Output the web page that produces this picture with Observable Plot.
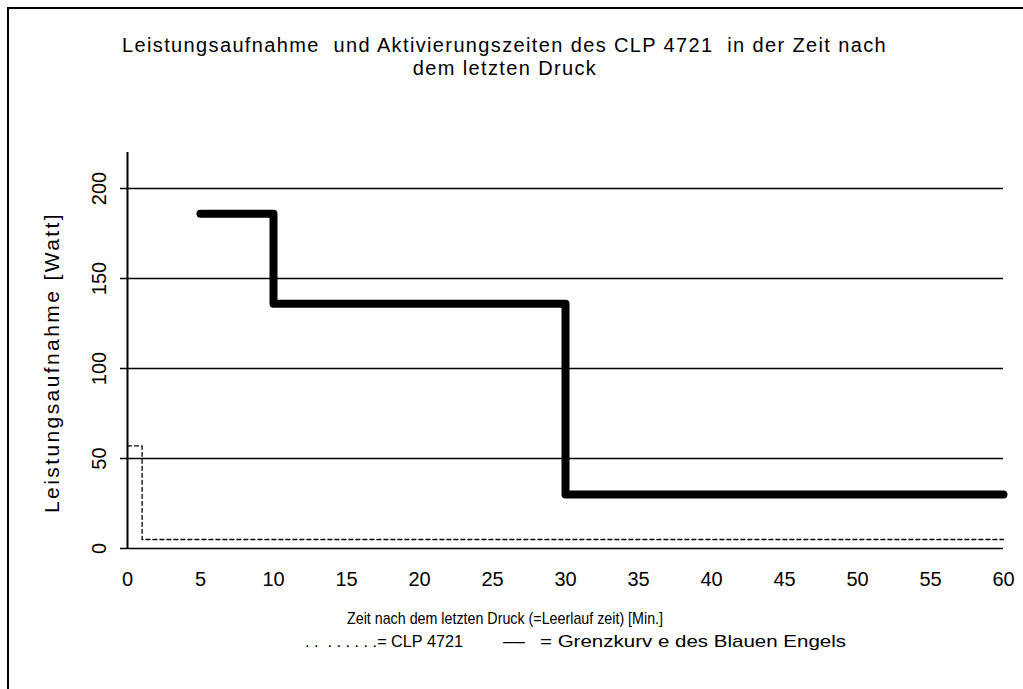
<!DOCTYPE html>
<html>
<head>
<meta charset="utf-8">
<script src="https://cdn.jsdelivr.net/npm/d3@7"></script>
<script src="https://cdn.jsdelivr.net/npm/@observablehq/plot@0.6"></script>
<style>
  html, body { margin: 0; padding: 0; background: #fff; }
  #wrap { position: relative; width: 1023px; height: 689px; overflow: hidden; font-family: "Liberation Sans", Arial, sans-serif; color: #000; }
  #frame { position: absolute; left: 7px; top: 7px; width: 1200px; height: 900px; border: 2px solid #000; box-sizing: border-box; }
  .t { position: absolute; white-space: pre; transform-origin: 0 0; }
  #chart { position: absolute; left: 0; top: 0; }
</style>
</head>
<body>
<div id="wrap">
  <div id="frame"></div>
  <div id="chart"></div>
  <div class="t" id="t1" data-l="122" data-w="765" data-mode="ls" style="top:34px;font-size:20px;">Leistungsaufnahme  und Aktivierungszeiten des CLP 4721  in der Zeit nach</div>
  <div class="t" id="t2" data-c="505" data-mode="ls2" style="top:57px;font-size:20px;">dem letzten Druck</div>
  <div class="t" id="xl" data-l="347" data-w="316" data-mode="sx" style="top:609px;font-size:17px;">Zeit nach dem letzten Druck (=Leerlauf zeit) [Min.]</div>
  <div class="t" id="lg1" data-l="305" data-w="158" data-mode="sx" style="top:632px;font-size:17px;">. .  . . . . . .= CLP 4721</div>
  <div class="t" id="lg2" data-l="503" data-w="22" data-mode="sx" style="top:632px;font-size:17px;">——</div>
  <div class="t" id="lg3" data-l="540" data-w="306" data-mode="sx" style="top:632px;font-size:17px;">= Grenzkurv e des Blauen Engels</div>
</div>
<script>
const xTicks = [0, 5, 10, 15, 20, 25, 30, 35, 40, 45, 50, 55, 60];
const yTicks = [0, 50, 100, 150, 200];
const grenzX = [5, 10, 30, 60];
const grenzY = [186, 136, 30, 30];
const clpX = [0, 1, 60];
const clpY = [57, 5, 5];
const yLabel = "Leistungsaufnahme [Watt]";

const grenz = grenzX.map((x, i) => ({x, y: grenzY[i]}));
const clp = clpX.map((x, i) => ({x, y: clpY[i]}));

const chart = Plot.plot({
  width: 1023,
  height: 689,
  marginLeft: 127,
  marginRight: 20,
  marginTop: 152,
  marginBottom: 141,
  style: {fontFamily: "Liberation Sans, Arial, sans-serif", fontSize: "20px", background: "transparent", overflow: "visible"},
  x: {domain: [0, 60]},
  y: {domain: [0, 220]},
  marks: [
    Plot.ruleY(yTicks, {stroke: "#000", strokeWidth: 1.5}),
    Plot.axisY({ticks: yTicks, tickSize: 7, label: null, stroke: "#000", strokeWidth: 1.5, strokeOpacity: 1}),
    Plot.ruleX([0], {y1: 0, y2: 220, stroke: "#000", strokeWidth: 2}),
    Plot.axisX({ticks: xTicks, tickSize: 0, tickPadding: 23, label: null, fontSize: 20}),
    Plot.text(yTicks, {x: 0, y: d => d, text: d => String(d), rotate: -90, dx: -28, fontSize: 20, textAnchor: "middle"}),
    Plot.text([yLabel], {frameAnchor: "left", rotate: -90, dx: -75, dy: 12, fontSize: 21, textAnchor: "middle"}),
    Plot.line(clp, {x: "x", y: "y", curve: "step-after", stroke: "#000", strokeWidth: 1.3, strokeDasharray: "4,3"}),
    Plot.line(grenz, {x: "x", y: "y", curve: "step-after", stroke: "#000", strokeWidth: 8, strokeLinejoin: "round"})
  ]
});
document.getElementById("chart").appendChild(chart);

// hide the default horizontal y tick labels (rotated ones are drawn as a text mark)
chart.querySelectorAll('g[aria-label="y-axis tick label"]').forEach(g => g.remove());
// widen the y axis title to the reference length
chart.querySelectorAll("text").forEach(t => {
  if (t.textContent === yLabel) {
    const w = t.getComputedTextLength();
    t.style.letterSpacing = ((301 - w) / yLabel.length) + "px";
  }
});

// fit the html texts
let ratio = 1;
for (const el of document.querySelectorAll(".t")) {
  const w = el.getBoundingClientRect().width;
  const n = el.textContent.length;
  const mode = el.dataset.mode;
  if (mode === "ls") {
    const ls = (+el.dataset.w - w) / n;
    el.style.letterSpacing = ls + "px";
    el.style.left = el.dataset.l + "px";
    ratio = ls;
  } else if (mode === "ls2") {
    el.style.letterSpacing = ratio + "px";
    const w2 = el.getBoundingClientRect().width;
    el.style.left = (+el.dataset.c - w2 / 2) + "px";
  } else {
    el.style.left = el.dataset.l + "px";
    el.style.transform = `scaleX(${(+el.dataset.w) / w})`;
  }
}
</script>
</body>
</html>
